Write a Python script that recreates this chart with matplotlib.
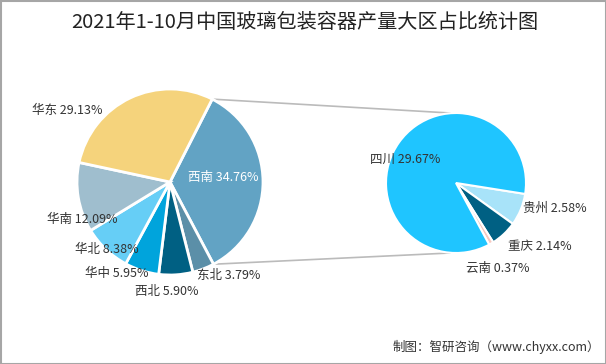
import numpy as np
import matplotlib
matplotlib.use("Agg")
from matplotlib import pyplot as plt
from matplotlib.patches import Rectangle

plt.rcParams['font.family'] = ['Noto Sans CJK SC', 'DejaVu Sans']

# data
regions = ['西南', '东北', '西北', '华中', '华北', '华南', '华东']
region_vals = [34.76, 3.79, 5.90, 5.95, 8.38, 12.09, 29.13]
region_colors = ['#62A3C4', '#5B8FA8', '#006083', '#00A4DC', '#66CEF6', '#9FBECE', '#F5D37C']

provinces = ['贵州', '重庆', '云南', '四川']
province_vals = [2.58, 2.14, 0.37, 29.67]
province_colors = ['#A8E3F9', '#006083', '#F6C8C0', '#1FC5FF']

title = '2021年1-10月中国玻璃包装容器产量大区占比统计图'
source = '制图：智研咨询（www.chyxx.com）'

# layout in pixels (y from top)
W, H = 606, 364
left_c, left_r = (170, 182), 93
right_c, right_r = (456, 183), 70
region_lab_pos = [(188, 177), (197, 275), (135, 291), (85, 273), (75, 250), (47, 219), (32, 110)]
province_lab_pos = [(523, 208), (508, 247), (466, 268), (370, 159)]

fig = plt.figure(figsize=(W / 100, H / 100), dpi=100)
ax = fig.add_axes([0, 0, 1, 1])

def fy(y):
    return H - y

wl, _ = ax.pie(region_vals, colors=region_colors, startangle=63, counterclock=False,
               center=(left_c[0], fy(left_c[1])), radius=left_r,
               wedgeprops=dict(edgecolor='white', linewidth=2), frame=True)
wr, _ = ax.pie(province_vals, colors=province_colors, startangle=-9, counterclock=False,
               center=(right_c[0], fy(right_c[1])), radius=right_r,
               wedgeprops=dict(edgecolor='white', linewidth=1.5), frame=True)
ax.set_xlim(0, W)
ax.set_ylim(0, H)
ax.axis('off')

# lines from the 西南 wedge to the second pie
w = wl[0]
for th, dy in [(w.theta2, 1), (w.theta1, -1)]:
    x0 = left_c[0] + left_r * np.cos(np.radians(th))
    y0 = fy(left_c[1]) + left_r * np.sin(np.radians(th))
    ax.plot([x0, right_c[0] - 6], [y0, fy(right_c[1]) + dy * right_r], color='#BBBBBB', lw=1.2, zorder=0)

for name, v, (x, y) in zip(regions, region_vals, region_lab_pos):
    col = 'white' if name == '西南' else '#333333'
    ax.text(x, fy(y), f'{name} {v:.2f}%', fontsize=9, color=col, ha='left', va='center')
for name, v, (x, y) in zip(provinces, province_vals, province_lab_pos):
    ax.text(x, fy(y), f'{name} {v:.2f}%', fontsize=9, color='#333333', ha='left', va='center')

ax.text(W / 2 + 2, fy(22), title, fontsize=14.5, ha='center', va='center', color='#222222')
ax.text(393, fy(347), source, fontsize=9, ha='left', va='center', color='#333333')

fig.patches.append(Rectangle((0.5, 0.5), W - 1, H - 1, transform=None, fill=False,
                             edgecolor='#A6A6A6', linewidth=1.5))

fig.savefig('out.png', dpi=100)
